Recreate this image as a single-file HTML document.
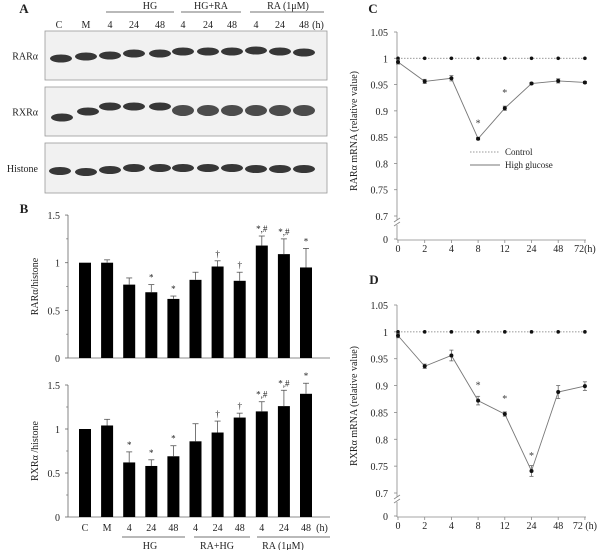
<!DOCTYPE html>
<html><head><meta charset="utf-8"><style>
html,body{margin:0;padding:0;background:#fff}
svg{display:block;font-family:"Liberation Serif",serif}
</style></head><body>
<svg id="fig" width="600" height="550" viewBox="0 0 600 550"></svg>
<script>
// ---------- data ----------
const lanes = ['C','M','4','24','48','4','24','48','4','24','48'];
const rarVals = [1.0,1.0,0.77,0.69,0.62,0.82,0.96,0.81,1.18,1.09,0.95];
const rarErr = [0,0.03,0.07,0.08,0.03,0.08,0.06,0.09,0.1,0.16,0.2];
const rarSig = ['','','','*','*','','†','†','*,#','*,#','*'];
const rxrVals = [1.0,1.04,0.62,0.58,0.69,0.86,0.96,1.13,1.2,1.26,1.4];
const rxrErr = [0,0.07,0.12,0.07,0.12,0.2,0.13,0.05,0.11,0.18,0.12];
const rxrSig = ['','','*','*','*','','†','†','*,#','*,#','*'];
const barTicks = [0,0.5,1,1.5];
const timeLabels = ['0','2','4','8','12','24','48','72'];
const cHigh = [0.993,0.956,0.962,0.847,0.905,0.952,0.957,0.954];
const cHighErr = [0.004,0.004,0.005,0.002,0.004,0.002,0.004,0.002];
const cCtrl = [1,1,1,1,1,1,1,1];
const cSig = ['','','','*','*','','',''];
const dHigh = [0.993,0.936,0.956,0.872,0.847,0.741,0.888,0.899];
const dHighErr = [0.004,0.004,0.01,0.008,0.004,0.01,0.012,0.008];
const dCtrl = [1,1,1,1,1,1,1,1];
const dSig = ['','','','*','*','*','',''];
const lineTicks = [0.7,0.75,0.8,0.85,0.9,0.95,1,1.05];
// ---------- helpers ----------
const svg=document.getElementById('fig');const NS='http://www.w3.org/2000/svg';
function mk(tag,attrs,parent){const e=document.createElementNS(NS,tag);for(const k in attrs)e.setAttribute(k,attrs[k]);(parent||svg).appendChild(e);return e;}
function txt(x,y,s,size,anchor,parent,extra){const t=mk('text',Object.assign({x:x,y:y,'font-size':size,'text-anchor':anchor||'middle',fill:'#222'},extra||{}),parent);t.textContent=s;return t;}
const laneX=i=>85+i*22.1;
// ---------- panel A ----------
const gA=mk('g',{});


txt(24,13,'A',13,'middle',gA,{'font-weight':'bold'});
[['HG',106,174,150],['HG+RA',181,241,211],['RA (1μM)',250,324,288]].forEach(g=>{
  mk('line',{x1:g[1],x2:g[2],y1:12,y2:12,stroke:'#444','stroke-width':0.8},gA);
  txt(g[3],9,g[0],10,'middle',gA);
});
const hdr=['C','M','4','24','48','4','24','48','4','24','48'];
const hx=[59,86,110,134,160,183,208,232,256,280,304];
hdr.forEach((s,i)=>txt(hx[i],28,s,10,'middle',gA));
txt(318,28,'(h)',10,'middle',gA);
const blots=[['RARα',31,80,[[61,0],[86,-2],[110,-3],[134,-5],[160,-5],[183,-7],[208,-7],[232,-7],[256,-8],[280,-7],[304,-6]]],
 ['RXRα',87,136,[[62,3],[88,-3],[110,-8],[134,-8],[160,-8],[183,-4],[208,-4],[232,-4],[256,-4],[280,-4],[304,-4]]],
 ['Histone',143,193,[[60,0],[86,1],[110,-1],[134,-3],[160,-3],[183,-3],[208,-3],[232,-3],[256,-2],[280,-2],[304,-2]]]];
blots.forEach((b,bi)=>{
  mk('rect',{x:45,y:b[1],width:282,height:b[2]-b[1],fill:'#f1f1f1',stroke:'#999','stroke-width':0.8},gA);
  txt(38,(b[1]+b[2])/2+4,b[0],10,'end',gA);
  const cy=(b[1]+b[2])/2+3;
  b[3].forEach((p,i)=>{
    const h=bi===1&&i>=5?9:6;
    mk('ellipse',{cx:p[0],cy:cy+p[1],rx:11,ry:h/2+1,fill:bi===1&&i>=5?'#3a3a3a':'#222',opacity:0.9},gA);
  });
});
// ---------- panel B ----------
function barChart(y0,scale,vals,errs,sigs,ylabel,name){
  const g=mk('g',{});
  
  
  const Y=v=>y0-v*scale;
  mk('line',{x1:68,x2:68,y1:Y(1.5),y2:y0,stroke:'#666','stroke-width':0.8},g);
  mk('line',{x1:68,x2:330,y1:y0,y2:y0,stroke:'#666','stroke-width':0.8},g);
  barTicks.forEach(t=>{mk('line',{x1:65,x2:68,y1:Y(t),y2:Y(t),stroke:'#666','stroke-width':0.8},g);
    txt(60,Y(t)+4,String(t),10,'end',g);});
  [0.25,0.75,1.25].forEach(t=>mk('line',{x1:66,x2:68,y1:Y(t),y2:Y(t),stroke:'#666','stroke-width':0.6},g));
  txt(0,0,ylabel,10,'middle',g,{transform:`translate(38,${y0-0.75*scale}) rotate(-90)`});
  vals.forEach((v,i)=>{
    const x=laneX(i);
    const r=mk('rect',{x:x-6,y:Y(v),width:12,height:v*scale,fill:'#000'},g);
    
    
    if(errs[i]>0){mk('line',{x1:x,x2:x,y1:Y(v),y2:Y(v+errs[i]),stroke:'#555','stroke-width':0.8},g);
      mk('line',{x1:x-3,x2:x+3,y1:Y(v+errs[i]),y2:Y(v+errs[i]),stroke:'#555','stroke-width':0.8},g);}
    if(sigs[i])txt(x,Y(v+errs[i])-4,sigs[i],9,'middle',g);
  });
  return g;
}
txt(24,213,'B',13,'middle',svg,{'font-weight':'bold'});
barChart(358,95.3,rarVals,rarErr,rarSig,'RARα/histone','rar-bar-chart');
const gb2=barChart(517,88,rxrVals,rxrErr,rxrSig,'RXRα /histone','rxr-bar-chart');
lanes.forEach((s,i)=>txt(laneX(i),531,s,10,'middle',gb2));
txt(laneX(10)+16,531,'(h)',10,'middle',gb2);
[['HG',122,185,150],['RA+HG',194,250,217],['RA (1μM)',257,330,283]].forEach(g=>{
  mk('line',{x1:g[1],x2:g[2],y1:537,y2:537,stroke:'#444','stroke-width':0.8},gb2);
  txt(g[3],549,g[0],10,'middle',gb2);
});
// ---------- panels C & D ----------
function lineChart(top,y0,high,err,ctrl,sig,label,name,xlabSuffix){
  const g=mk('g',{});
  
  
  const s=(y0-24-top)/7;
  const Y=v=>top+(1.05-v)/0.05*s;
  const X=i=>398+i*26.7;
  mk('line',{x1:397,x2:397,y1:top,y2:Y(0.7)+4,stroke:'#888','stroke-width':0.8},g);
  mk('line',{x1:397,x2:397,y1:Y(0.7)+9,y2:y0,stroke:'#888','stroke-width':0.8},g);
  mk('path',{d:`M394 ${Y(0.7)+6} l6 -4 M394 ${Y(0.7)+10} l6 -4`,stroke:'#888','stroke-width':0.8,fill:'none'},g);
  mk('line',{x1:397,x2:586,y1:y0,y2:y0,stroke:'#888','stroke-width':0.8},g);
  lineTicks.forEach(t=>{mk('line',{x1:394,x2:397,y1:Y(t),y2:Y(t),stroke:'#888','stroke-width':0.8},g);
    txt(388,Y(t)+4,String(t),10,'end',g);});
  mk('line',{x1:394,x2:397,y1:y0-1,y2:y0-1,stroke:'#888','stroke-width':0.8},g);
  txt(388,y0+3,'0',10,'end',g);
  timeLabels.forEach((t,i)=>{mk('line',{x1:X(i),x2:X(i),y1:y0,y2:y0+3,stroke:'#888','stroke-width':0.8},g);
    txt(X(i),y0+12,t+(i===7?xlabSuffix:''),10,'middle',g);});
  txt(0,0,label,10,'middle',g,{transform:`translate(357,${(top+y0)/2-5}) rotate(-90)`});
  mk('polyline',{points:ctrl.map((v,i)=>X(i)+','+Y(v)).join(' '),fill:'none',stroke:'#777','stroke-width':0.8,'stroke-dasharray':'1.5,1.5'},g);
  mk('polyline',{points:high.map((v,i)=>X(i)+','+Y(v)).join(' '),fill:'none',stroke:'#777','stroke-width':0.9},g);
  ctrl.forEach((v,i)=>{const d=mk('circle',{cx:X(i),cy:Y(v),r:1.8,fill:'#111'},g);
    });
  high.forEach((v,i)=>{
    mk('line',{x1:X(i),x2:X(i),y1:Y(v+err[i]),y2:Y(v-err[i]),stroke:'#666','stroke-width':0.8},g);
    mk('line',{x1:X(i)-2,x2:X(i)+2,y1:Y(v+err[i]),y2:Y(v+err[i]),stroke:'#666','stroke-width':0.8},g);
    mk('line',{x1:X(i)-2,x2:X(i)+2,y1:Y(v-err[i]),y2:Y(v-err[i]),stroke:'#666','stroke-width':0.8},g);
    const d=mk('circle',{cx:X(i),cy:Y(v),r:2,fill:'#111'},g);
    
    if(sig[i])txt(X(i),Y(v)-12,sig[i],10,'middle',g,{fill:'#444'});
  });
  return g;
}
txt(373,13,'C',13,'middle',svg,{'font-weight':'bold'});
const gc=lineChart(32,240,cHigh,cHighErr,cCtrl,cSig,'RARα mRNA (relative value)','rar-mrna-chart','(h)');
const lc=mk('g',{},gc);


mk('line',{x1:470,x2:500,y1:152,y2:152,stroke:'#777','stroke-width':0.8,'stroke-dasharray':'1.5,1.5'},lc);
txt(505,155,'Control',9,'start',lc);
mk('line',{x1:470,x2:500,y1:165,y2:165,stroke:'#777','stroke-width':0.9},lc);
txt(505,168,'High glucose',9,'start',lc);
txt(374,284,'D',13,'middle',svg,{'font-weight':'bold'});
lineChart(305,517,dHigh,dHighErr,dCtrl,dSig,'RXRα mRNA (relative value)','rxr-mrna-chart',' (h)');
</script>
</body></html>
